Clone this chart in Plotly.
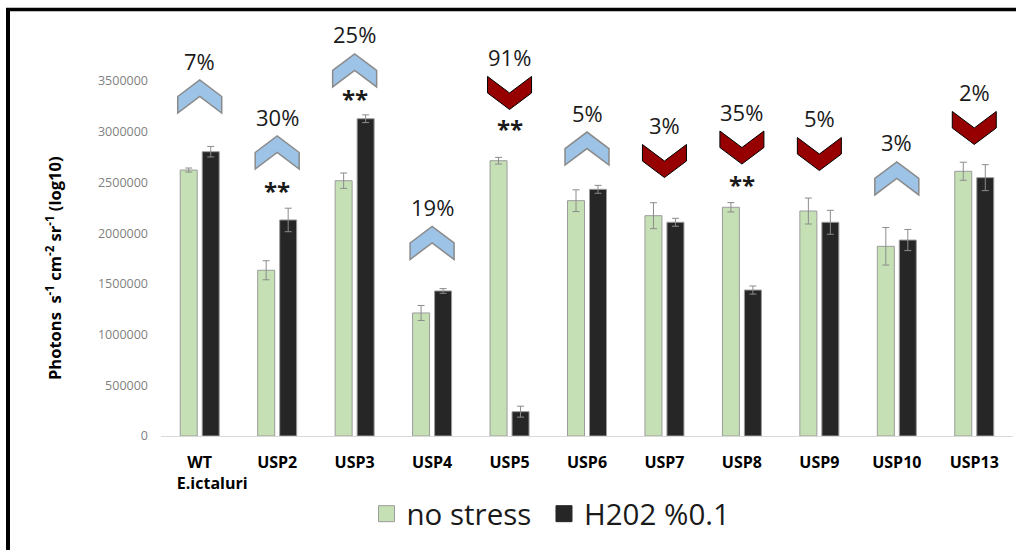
import plotly.graph_objects as go

# ---------------- data ----------------
categories = ["WT<br>&nbsp;&nbsp;&nbsp;&nbsp;&nbsp;&nbsp;E.ictaluri", "USP2", "USP3", "USP4",
              "USP5", "USP6", "USP7", "USP8", "USP9", "USP10", "USP13"]
no_stress = [2622000, 1634000, 2517000, 1213000, 2714000, 2320000,
             2172000, 2255000, 2218000, 1870000, 2610000]
no_stress_err = [20000, 94000, 76000, 74000, 33000, 107000,
                 128000, 46000, 128000, 185000, 89000]
h2o2 = [2803000, 2130000, 3128000, 1430000, 240000, 2432000,
        2107000, 1439000, 2107000, 1932000, 2547000]
h2o2_err = [52000, 116000, 38000, 23000, 54000, 39000,
            39000, 40000, 118000, 104000, 128000]
change_pct = ["7%", "30%", "25%", "19%", "91%", "5%", "3%", "35%", "5%", "3%", "2%"]
significance = ["", "**", "**", "", "**", "", "", "**", "", "", ""]
y_ticks = [0, 500000, 1000000, 1500000, 2000000, 2500000, 3000000, 3500000]

# annotation placement (layout only, in data units)
chevron_level = [3347000, 2795000, 3604000, 1903000, 3382000, 2834000,
                 2711000, 2844000, 2780000, 2539000, 3037000]
star_level = [None, 2425000, 3332000, None, 3027000, None,
              None, 2484000, None, None, None]

# ---------------- layout geometry ----------------
W, H = 1016, 550
ML, MR, MT, MB = 161, 3, 20, 114
PW = W - ML - MR
PH = H - MT - MB
PX_PER_MILLION = 101.43
YMAX = PH / PX_PER_MILLION * 1e6


def px_x(p):
    return (p - ML) / PW


def px_y(p):
    return (H - MB - p) / PH


FONT = "Open Sans"
idx = list(range(len(categories)))

fig = go.Figure()
fig.add_trace(go.Bar(
    x=idx, y=no_stress, name="no stress", showlegend=False,
    marker=dict(color="#c5e0b4", line=dict(color="#9c9c9c", width=1)),
    error_y=dict(type="data", array=no_stress_err, color="#8c8c8c",
                 thickness=1, width=3.5),
))
fig.add_trace(go.Bar(
    x=idx, y=h2o2, name="H202 %0.1", showlegend=False,
    marker=dict(color="#262626", line=dict(color="#9c9c9c", width=1)),
    error_y=dict(type="data", array=h2o2_err, color="#8c8c8c",
                 thickness=1, width=3.5),
))
# legend entries (square swatches)
fig.add_trace(go.Scatter(
    x=[None], y=[None], mode="markers", name="no stress&nbsp;",
    marker=dict(symbol="square", size=16, color="#c5e0b4",
                line=dict(color="#9c9c9c", width=1)),
))
fig.add_trace(go.Scatter(
    x=[None], y=[None], mode="markers", name="H202 %0.1",
    marker=dict(symbol="square", size=16, color="#262626",
                line=dict(color="#262626", width=1)),
))

path_up = "M-22,0 L0,16.5 L22,0 L22,-16.5 L0,0 L-22,-16.5 Z"
path_down = "M-22,16.5 L0,0 L22,16.5 L22,0 L0,-16.5 L-22,0 Z"

shapes = []
annotations = []
for i in idx:
    up = h2o2[i] > no_stress[i]
    shapes.append(dict(
        type="path", xref="x", yref="y", xsizemode="pixel", ysizemode="pixel",
        xanchor=i, yanchor=chevron_level[i],
        path=path_up if up else path_down,
        fillcolor="#9dc3e6" if up else "#960000",
        line=dict(color="#8a8a8a" if up else "#000000", width=1.5 if up else 1),
        layer="above",
    ))
    annotations.append(dict(
        x=i, y=chevron_level[i], xref="x", yref="y", yshift=36,
        text=change_pct[i], showarrow=False,
        font=dict(family=FONT, size=22, color="#1a1a1a"),
    ))
    if significance[i]:
        annotations.append(dict(
            x=i, y=star_level[i], xref="x", yref="y",
            text=significance[i], showarrow=False,
            font=dict(family=FONT, size=24, color="#1a1a1a", weight="bold"),
        ))

# y-axis title
annotations.append(dict(
    x=px_x(40), y=px_y(268), xref="paper", yref="paper",
    text="Photons  s<sup>-1</sup> cm<sup>-2</sup> sr<sup>-1</sup> (log10)",
    textangle=-90, showarrow=False,
    font=dict(family=FONT, size=16.5, color="#000000", weight="bold"),
))

# outer frame (left and top edges)
shapes.append(dict(type="line", xref="paper", yref="paper",
                   x0=px_x(8), x1=px_x(8), y0=px_y(9.5), y1=px_y(560),
                   line=dict(color="#000000", width=4)))
shapes.append(dict(type="line", xref="paper", yref="paper",
                   x0=px_x(6), x1=px_x(1030), y0=px_y(9.5), y1=px_y(9.5),
                   line=dict(color="#000000", width=3.5)))

fig.update_layout(
    width=W, height=H,
    margin=dict(l=ML, r=MR, t=MT, b=MB, autoexpand=False),
    paper_bgcolor="white", plot_bgcolor="white",
    barmode="group", bargap=0.432, bargroupgap=0.227,
    font=dict(family=FONT),
    shapes=shapes, annotations=annotations,
    legend=dict(
        orientation="h", xref="container", yref="container",
        x=551 / W, xanchor="center", y=1 - 514 / H, yanchor="middle",
        font=dict(family=FONT, size=29.5, color="#1a1a1a"),
        bgcolor="rgba(0,0,0,0)",
    ),
    xaxis=dict(
        range=[-0.5, 10.5], tickmode="array", tickvals=idx, ticktext=categories,
        showline=True, linecolor="#d9d9d9", linewidth=1, ticks="",
        showgrid=False, zeroline=False, ticklabelstandoff=12, automargin=False,
        tickfont=dict(family=FONT, size=16, color="#000000", weight="bold"),
    ),
    yaxis=dict(
        range=[0, YMAX], tickmode="array", tickvals=y_ticks,
        tickformat="d", showgrid=False, zeroline=False, showline=False,
        ticks="", ticklabelstandoff=12, automargin=False,
        tickfont=dict(family=FONT, size=12.5, color="#7f7f7f"),
    ),
)

fig.write_html("out.html", config={"displayModeBar": False},
               post_script="document.body.style.margin='0';")
